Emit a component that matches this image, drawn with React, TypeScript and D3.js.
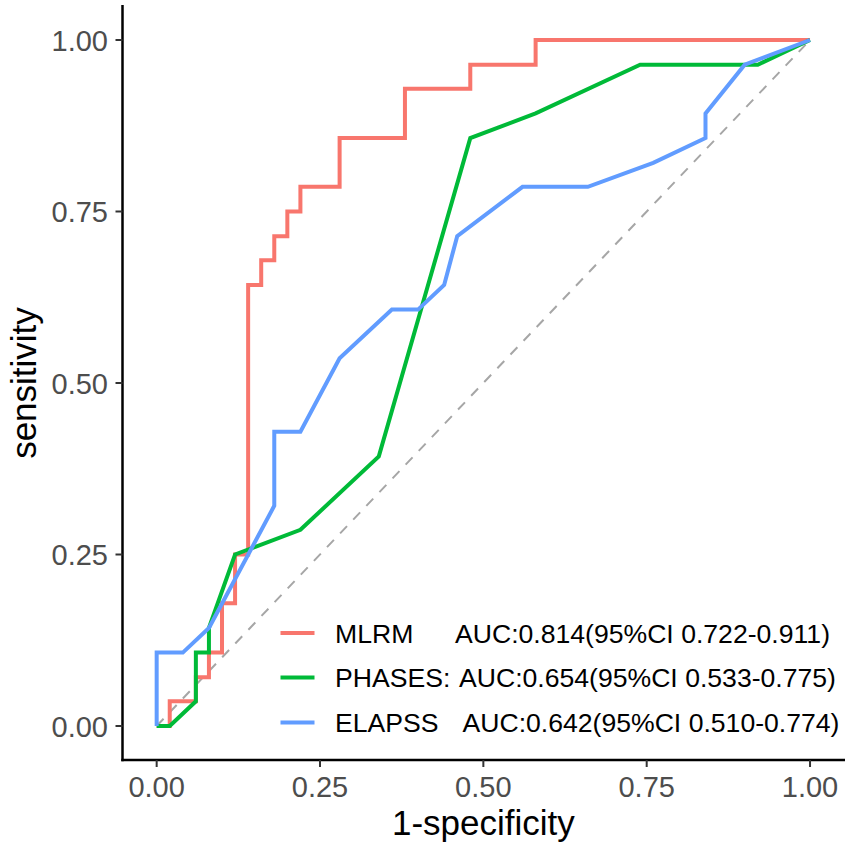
import React from "react";
import * as d3 from "d3";

const modelNames = ["MLRM", "PHASES", "ELAPSS"];
const aucLabels = [
  "AUC:0.814(95%CI 0.722-0.911)",
  "AUC:0.654(95%CI 0.533-0.775)",
  "AUC:0.642(95%CI 0.510-0.774)",
];
const nameLabels = ["MLRM", "PHASES:", "ELAPSS"];
const colors = ["#F8766D", "#00BA38", "#619CFF"];

const mlrmFpr = [0, 0.02, 0.02, 0.06, 0.06, 0.08, 0.08, 0.1, 0.1, 0.12, 0.12, 0.14, 0.14, 0.16, 0.16, 0.18, 0.18, 0.2, 0.2, 0.22, 0.22, 0.28, 0.28, 0.38, 0.38, 0.48, 0.48, 0.58, 0.58, 1];
const mlrmTpr = [0, 0, 0.036, 0.036, 0.071, 0.071, 0.107, 0.107, 0.179, 0.179, 0.25, 0.25, 0.643, 0.643, 0.679, 0.679, 0.714, 0.714, 0.75, 0.75, 0.786, 0.786, 0.857, 0.857, 0.929, 0.929, 0.964, 0.964, 1, 1];

const phasesFpr = [0, 0.02, 0.06, 0.06, 0.08, 0.08, 0.12, 0.22, 0.34, 0.48, 0.58, 0.74, 0.92, 1];
const phasesTpr = [0, 0, 0.036, 0.107, 0.107, 0.143, 0.25, 0.286, 0.393, 0.857, 0.893, 0.964, 0.964, 1];

const elapssFpr = [0, 0, 0.04, 0.08, 0.18, 0.18, 0.22, 0.28, 0.36, 0.4, 0.44, 0.46, 0.56, 0.66, 0.76, 0.84, 0.84, 0.9, 1];
const elapssTpr = [0, 0.107, 0.107, 0.143, 0.321, 0.429, 0.429, 0.536, 0.607, 0.607, 0.643, 0.714, 0.786, 0.786, 0.821, 0.857, 0.893, 0.964, 1];

const tickValues = [0, 0.25, 0.5, 0.75, 1];
const tickLabels = ["0.00", "0.25", "0.50", "0.75", "1.00"];

const FONT = "'Liberation Sans', Arial, Helvetica, sans-serif";

export default function App() {
  const x = d3.scaleLinear().domain([-0.05, 1.05]).range([124, 842.7]);
  const y = d3.scaleLinear().domain([-0.05, 1.05]).range([760.3, 5.7]);

  const series = [
    { fpr: mlrmFpr, tpr: mlrmTpr },
    { fpr: phasesFpr, tpr: phasesTpr },
    { fpr: elapssFpr, tpr: elapssTpr },
  ];

  const line = d3
    .line<[number, number]>()
    .x((d) => x(d[0]))
    .y((d) => y(d[1]));

  const axisLeftX = 122.5;
  const axisBottomY = 760;

  const legendRowY = [633, 677.5, 722.5];
  const aucX = [455, 459, 462.5];

  return (
    <svg
      width={851}
      height={851}
      style={{ position: "absolute", left: 0, top: 0, background: "#fff" }}
      fontFamily={FONT}
    >
      <rect x={0} y={0} width={851} height={851} fill="#fff" />
      {/* diagonal reference */}
      <line
        x1={x(0)}
        y1={y(0)}
        x2={x(1)}
        y2={y(1)}
        stroke="#A6A6A6"
        strokeWidth={2}
        strokeDasharray="10,9"
      />
      {series.map((s, i) => (
        <path
          key={modelNames[i]}
          d={line(s.fpr.map((f, j) => [f, s.tpr[j]] as [number, number])) || ""}
          fill="none"
          stroke={colors[i]}
          strokeWidth={4}
          strokeLinejoin="miter"
          strokeLinecap="butt"
        />
      ))}

      {/* axes */}
      <line x1={axisLeftX} y1={5} x2={axisLeftX} y2={axisBottomY + 1.2} stroke="#000" strokeWidth={2.5} />
      <line x1={axisLeftX - 1.2} y1={axisBottomY} x2={845} y2={axisBottomY} stroke="#000" strokeWidth={2.5} />

      {tickValues.map((t, i) => (
        <g key={"y" + i}>
          <line x1={axisLeftX - 7} x2={axisLeftX} y1={y(t)} y2={y(t)} stroke="#333" strokeWidth={2} />
          <text x={108} y={y(t) + 10.5} textAnchor="end" fontSize={29} fill="#4D4D4D">
            {tickLabels[i]}
          </text>
        </g>
      ))}
      {tickValues.map((t, i) => (
        <g key={"x" + i}>
          <line x1={x(t)} x2={x(t)} y1={axisBottomY} y2={axisBottomY + 7} stroke="#333" strokeWidth={2} />
          <text x={x(t)} y={797} textAnchor="middle" fontSize={29} fill="#4D4D4D">
            {tickLabels[i]}
          </text>
        </g>
      ))}

      <text x={(x(0) + x(1)) / 2} y={835} textAnchor="middle" fontSize={35} fill="#000">
        1-specificity
      </text>
      <text
        transform={`translate(36,${(y(0) + y(1)) / 2}) rotate(-90)`}
        textAnchor="middle"
        fontSize={35}
        fill="#000"
      >
        sensitivity
      </text>

      {/* legend */}
      {modelNames.map((m, i) => (
        <g key={"leg" + m}>
          <line x1={280.5} x2={314.5} y1={legendRowY[i]} y2={legendRowY[i]} stroke={colors[i]} strokeWidth={4} />
          <text x={335} y={legendRowY[i] + 9.5} fontSize={26.6} fill="#000">
            {nameLabels[i]}
          </text>
          <text x={aucX[i]} y={legendRowY[i] + 9.5} fontSize={26.6} fill="#000">
            {aucLabels[i]}
          </text>
        </g>
      ))}
    </svg>
  );
}
